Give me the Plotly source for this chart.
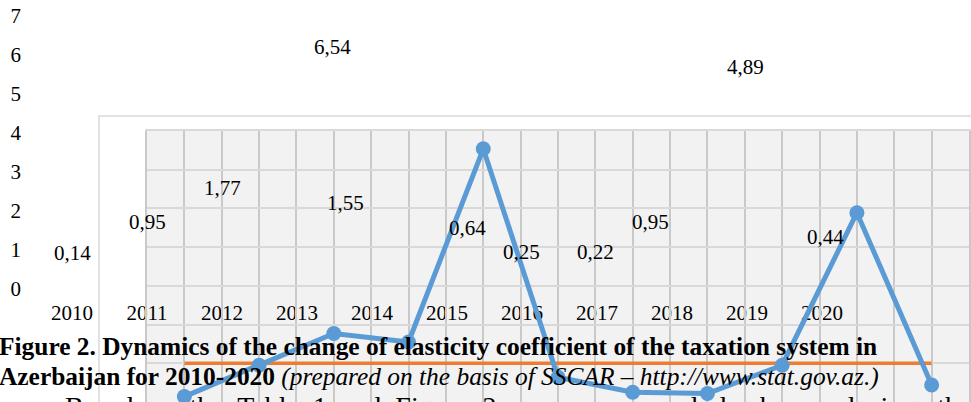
import plotly.graph_objects as go

# Coeficiente de elasticidad del sistema tributario, Azerbaiyán 2010-2020
years = [2010, 2011, 2012, 2013, 2014, 2015, 2016, 2017, 2018, 2019, 2020]
coef = [0.14, 0.95, 1.77, 1.55, 6.54, 0.64, 0.25, 0.22, 0.95, 4.89, 0.44]
unit_line = [1, 1, 1, 1, 1, 1, 1, 1, 1, 1, 1]
y_ticks = [0, 1, 2, 3, 4, 5, 6, 7]

# desplazamiento de las etiquetas (pixeles), tal como quedaron en la imagen
label_dx = [0, 0, 0, 48, -40, 20, -1, -2, -22, -2, 3]
label_dy = [31, 30, 32, 26, -13, 36, 27, 28, 30, 31, 35]

SERIF = "Liberation Serif, Times New Roman, serif"
W, H = 971, 402

fig = go.Figure()

# serie principal (sobre el area gris)
fig.add_trace(go.Scatter(
    x=years, y=unit_line, xaxis="x2", yaxis="y2", mode="lines",
    line=dict(color="#ed7d31", width=3.5), hoverinfo="skip"))
fig.add_trace(go.Scatter(
    x=years, y=coef, xaxis="x2", yaxis="y2", mode="lines+markers",
    line=dict(color="#5b9bd5", width=5),
    marker=dict(color="#5b9bd5", size=15)))

# etiquetas de datos sobre el eje "fantasma"
annotations = []
for yr, v, dx, dy in zip(years, coef, label_dx, label_dy):
    annotations.append(dict(
        x=yr, y=v, xref="x", yref="y", text=f"{v:.2f}".replace(".", ","),
        showarrow=False, xanchor="center", yanchor="middle",
        xshift=dx, yshift=dy, font=dict(family=SERIF, size=21, color="black")))

# texto del documento
annotations.append(dict(
    x=-3 / W, y=(H - 346) / H, xref="paper", yref="paper", xanchor="left", yanchor="middle",
    text="<b>Figure 2. Dynamics of the change of elasticity coefficient of the taxation system in</b>",
    showarrow=False, font=dict(family=SERIF, size=25.4, color="black")))
annotations.append(dict(
    x=-3 / W, y=(H - 376) / H, xref="paper", yref="paper", xanchor="left", yanchor="middle",
    text="<b>Azerbaijan for 2010-2020</b> <i>(prepared on the basis of SSCAR – http://www.stat.gov.az.)</i>",
    showarrow=False, font=dict(family=SERIF, size=25.4, color="black")))
annotations.append(dict(
    x=63 / W, y=(H - 406) / H, xref="paper", yref="paper", xanchor="left", yanchor="middle",
    text="Based  on  the  Table  1  and  Figure  2,   we   can   conclude   by   analysing   that   in",
    showarrow=False, font=dict(family=SERIF, size=28, color="black")))

shapes = [
    # marco exterior
    dict(type="rect", xref="paper", yref="paper", x0=99 / W, x1=1.02, y0=-0.05, y1=(H - 116) / H,
         line=dict(color="#d9d9d9", width=1.5), fillcolor="white", layer="below"),
    # area de trazado gris
    dict(type="rect", xref="x2 domain", yref="y2 domain", x0=0, x1=1, y0=0, y1=1,
         line=dict(width=0), fillcolor="#f2f2f2", layer="below"),
]

fig.update_layout(
    width=W, height=H,
    margin=dict(l=0, r=0, t=0, b=0),
    showlegend=False,
    paper_bgcolor="white",
    plot_bgcolor="rgba(0,0,0,0)",
    annotations=annotations,
    shapes=shapes,
    # ejes "fantasma" con las etiquetas desplazadas
    xaxis=dict(domain=[0, 1], range=[2010 - 72 / 75, 2010 + (W - 72) / 75],
               anchor="free", position=(H - 298) / H,
               tickvals=years, ticktext=[str(y) for y in years], ticks="",
               showgrid=False, zeroline=False, showline=False,
               tickfont=dict(family=SERIF, size=21, color="black")),
    yaxis=dict(domain=[0, 1], range=[-(H - 289) / 39, 289 / 39],
               anchor="free", position=21 / W,
               tickvals=y_ticks, ticks="",
               showgrid=False, zeroline=False, showline=False,
               tickfont=dict(family=SERIF, size=21, color="black")),
    # eje real de la grafica
    xaxis2=dict(domain=[147 / W, 969 / W], anchor="y2", range=[2009.5, 2020.5],
                tick0=2009.5, dtick=0.5, showticklabels=False, ticks="",
                showgrid=True, gridcolor="#c9c9c9", gridwidth=2, zeroline=False,
                showline=True, mirror=True, linecolor="#d9d9d9", linewidth=2),
    yaxis2=dict(domain=[0, (H - 131) / H], anchor="x2", range=[0, 7],
                dtick=1, showticklabels=False, ticks="",
                showgrid=True, gridcolor="#d9d9d9", gridwidth=2, zeroline=False,
                showline=True, mirror=True, linecolor="#c9c9c9", linewidth=2),
)

# quitar el margen del body para que la figura empiece en (0, 0)
fig.write_html("out.html", config={"displayModeBar": False},
               post_script="document.body.style.margin = '0px';")
